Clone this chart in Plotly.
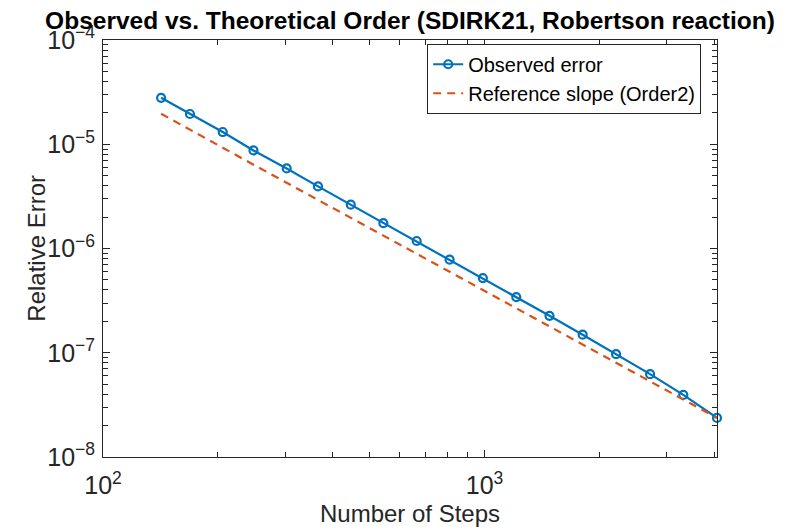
import plotly.graph_objects as go
import math

# Data
steps = [142, 169, 206, 248, 303, 366, 446, 543, 664, 810, 990, 1211, 1480, 1808, 2212, 2716, 3319, 4067]
observed_error = [2.79e-5, 1.95e-5, 1.31e-5, 8.72e-6, 5.86e-6, 3.94e-6, 2.63e-6, 1.75e-6, 1.18e-6,
                  7.82e-7, 5.20e-7, 3.42e-7, 2.26e-7, 1.49e-7, 9.69e-8, 6.23e-8, 3.94e-8, 2.37e-8]
reference_slope = [1.96e-5, 1.37e-5, 9.26e-6, 6.37e-6, 4.28e-6, 2.92e-6, 1.97e-6, 1.33e-6, 8.90e-7,
                   5.98e-7, 4.00e-7, 2.68e-7, 1.79e-7, 1.20e-7, 8.01e-8, 5.31e-8, 3.56e-8, 2.37e-8]

title_text = "Observed vs. Theoretical Order (SDIRK21, Robertson reaction)"
x_label = "Number of Steps"
y_label = "Relative Error"
names = ["Observed error", "Reference slope (Order2)"]

BLUE = "#0072BD"
ORANGE = "#D95319"
AX = "#262626"
FONT = "Liberation Sans, Arial, Helvetica, sans-serif"

fig = go.Figure()
fig.add_trace(go.Scatter(
    x=steps, y=observed_error, name=names[0], mode="lines+markers",
    line=dict(color=BLUE, width=2.2),
    marker=dict(symbol="circle-open", size=8, color=BLUE, line=dict(width=2.2, color=BLUE)),
    cliponaxis=False,
))
fig.add_trace(go.Scatter(
    x=steps, y=reference_slope, name=names[1], mode="lines",
    line=dict(color=ORANGE, width=2.2, dash="8px,6px"),
    cliponaxis=False,
))

axis_common = dict(
    type="log", showgrid=False, zeroline=False, automargin=False,
    showline=True, linecolor=AX, linewidth=1, mirror="ticks",
    ticks="inside", ticklen=7, tickwidth=1, tickcolor=AX,
    dtick=1, exponentformat="power",
    tickfont=dict(family=FONT, size=20, color=AX),
    minor=dict(ticks="inside", ticklen=5, tickwidth=1, tickcolor=AX, showgrid=False),
)

fig.update_layout(
    width=793, height=529,
    margin=dict(l=103, r=76, t=40, b=72),
    paper_bgcolor="white", plot_bgcolor="white",
    font=dict(family=FONT, color=AX),
    title=dict(text="<b>" + title_text + "</b>", x=0.5, xref="paper", xanchor="center",
               y=0.962, yanchor="middle", yref="container",
               font=dict(family=FONT, size=24.5, color="black")),
    xaxis=dict(axis_common, range=[2, math.log10(4067)], ticklabelstandoff=7,
               title=dict(text=x_label, font=dict(family=FONT, size=24, color=AX), standoff=7)),
    yaxis=dict(axis_common, range=[-8, -4], ticklabelstandoff=3),
    legend=dict(x=0.528, y=0.991, xanchor="left", yanchor="top",
                bgcolor="white", bordercolor=AX, borderwidth=1,
                font=dict(family=FONT, size=20, color="black"),
                tracegroupgap=0, itemwidth=30),
    showlegend=True,
)
# y-axis title placed precisely as in the reference
fig.add_annotation(text=y_label, xref="paper", yref="paper", x=-0.1075, y=0.502,
                   xanchor="center", yanchor="middle", textangle=-90, showarrow=False,
                   font=dict(family=FONT, size=24, color=AX))

fig.write_html("out.html", config={"displayModeBar": False},
               post_script="document.body.style.margin='0';")
